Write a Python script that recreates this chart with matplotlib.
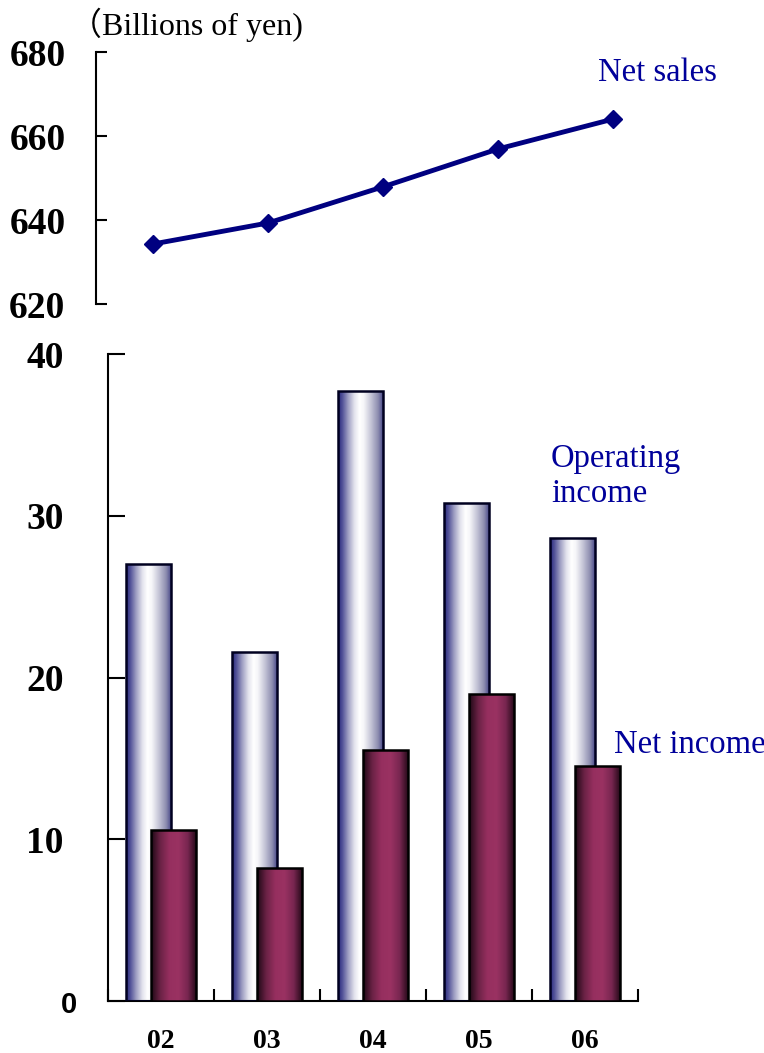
import matplotlib
matplotlib.use('Agg')
import matplotlib.pyplot as plt
import numpy as np
from matplotlib.colors import LinearSegmentedColormap

# data (billions of yen), fiscal years
years = ['02', '03', '04', '05', '06']
net_sales = [634.3, 639.3, 647.9, 656.9, 664.0]
operating_income = [27.0, 21.6, 37.7, 30.8, 28.6]
net_income = [10.6, 8.2, 15.5, 19.0, 14.5]
sales_ticks = [620, 640, 660, 680]
income_ticks = [0, 10, 20, 30, 40]

navy = '#000080'
text_blue = '#00009a'
W, H = 764, 1053

op_cmap = LinearSegmentedColormap.from_list('op', [
    (0.0, '#26267c'), (0.1, '#55559a'), (0.22, '#9e9ec2'), (0.36, '#e4e4ee'),
    (0.47, '#ffffff'), (0.56, '#f6f6f9'), (0.72, '#c4c4d6'), (0.88, '#8a8aae'),
    (1.0, '#3c3c82')])
ni_cmap = LinearSegmentedColormap.from_list('ni', [
    (0.0, '#1c0714'), (0.2, '#6a2245'), (0.4, '#962f5f'), (0.6, '#9a3262'),
    (0.8, '#782650'), (1.0, '#1e0714')])


def gradient_bars(ax, x, heights, width, cmap, edge, z):
    bars = ax.bar(x, heights, width, facecolor='none', edgecolor=edge,
                  linewidth=1.8, zorder=z + 1)
    grad = np.linspace(0, 1, 256).reshape(1, -1)
    for b in bars:
        x0, y0 = b.get_x(), b.get_y()
        im = ax.imshow(grad, extent=[x0, x0 + b.get_width(), y0, y0 + b.get_height()],
                       aspect='auto', cmap=cmap, zorder=z, interpolation='bilinear')
        im.set_clip_path(b)
    return bars


fig = plt.figure(figsize=(W / 100, H / 100), dpi=100)

## top: net sales line
ax1 = fig.add_axes([96 / W, 1 - 304 / H, (670 - 96) / W, (304 - 52) / H])
xs = np.arange(len(years))
ax1.plot(xs, net_sales, color=navy, linewidth=3.5, marker='D', markersize=9,
         markerfacecolor=navy, markeredgecolor=navy)
ax1.set_xlim(-0.5, 4.5)
ax1.set_ylim(620, 680)
ax1.set_yticks(sales_ticks)
ax1.set_yticklabels([str(t) for t in sales_ticks], fontfamily='Liberation Serif',
                    fontweight='bold', fontsize=27)
for s in ['top', 'right', 'bottom']:
    ax1.spines[s].set_visible(False)
ax1.spines['left'].set_linewidth(1.5)
ax1.set_xticks([])
ax1.tick_params(axis='y', direction='in', length=8, width=1.5, pad=22)

## bottom: operating income and net income bars
ax2 = fig.add_axes([108 / W, 1 - 1001 / H, (638 - 108) / W, (1001 - 354) / H])
gradient_bars(ax2, xs - 0.117, operating_income, 0.43, op_cmap, '#000020', 2)
gradient_bars(ax2, xs + 0.117, net_income, 0.43, ni_cmap, '#000000', 4)
ax2.set_xlim(-0.5, 4.5)
ax2.set_ylim(0, 40)
ax2.set_yticks(income_ticks)
# the zero label is drawn in a sans face in the original, added separately below
ax2.set_yticklabels(['' if t == 0 else str(t) for t in income_ticks],
                    fontfamily='Liberation Serif', fontweight='bold', fontsize=27)
ax2.set_xticks(xs)
ax2.set_xticklabels(years, fontfamily='Liberation Serif', fontweight='bold', fontsize=20)
ax2.set_xticks(np.arange(-0.5, 5, 1), minor=True)
for s in ['top', 'right']:
    ax2.spines[s].set_visible(False)
ax2.spines['left'].set_linewidth(1.5)
ax2.spines['bottom'].set_linewidth(1.5)
ax2.tick_params(axis='x', which='major', length=0, pad=20)
ax2.tick_params(axis='x', which='minor', direction='in', length=9, width=1.5)
ax2.tick_params(axis='y', direction='in', length=12, width=1.5, pad=32)
fig.text(77 / W, 1 - 1005 / H, '0', fontsize=21, fontweight='bold', ha='right',
         va='center', family='Liberation Sans')

## labels
fig.text(70 / W, 1 - 25 / H, '\uff08Billions of yen)', fontsize=23, va='center',
         family=['Liberation Serif', 'Noto Sans CJK JP'])
fig.text(598 / W, 1 - 73 / H, 'Net sales', fontsize=23.5, color=text_blue, va='center',
         family='Liberation Serif')
fig.text(551 / W, 1 - 476 / H, 'Operating\nincome', fontsize=23.5, color=text_blue,
         va='center', linespacing=1.18, family='Liberation Serif')
fig.text(614 / W, 1 - 745 / H, 'Net income', fontsize=23.5, color=text_blue, va='center',
         family='Liberation Serif')

fig.savefig('out.png', dpi=100)
